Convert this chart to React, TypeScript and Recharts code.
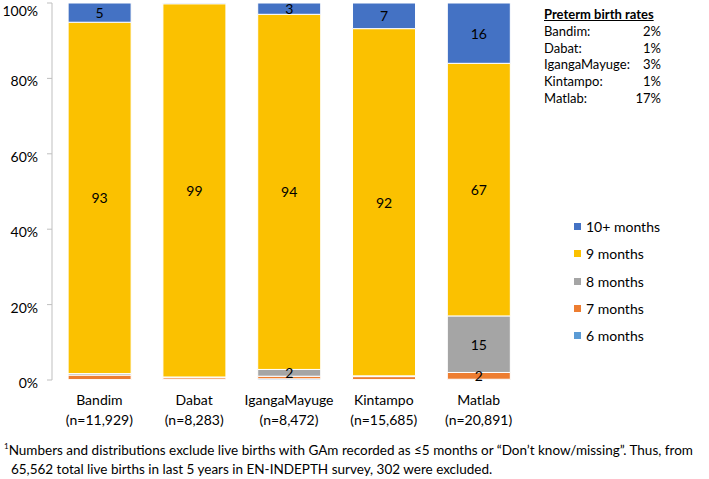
import React from 'react';
import {
  BarChart,
  Bar,
  XAxis,
  YAxis,
  LabelList
} from 'recharts';

// sites and sample sizes
const categories = ['Bandim', 'Dabat', 'IgangaMayuge', 'Kintampo', 'Matlab'];
const sampleSizes = ['11,929', '8,283', '8,472', '15,685', '20,891'];

// % of live births by gestational age in months
const m6 = [0.1, 0.1, 0.3, 0.1, 0.2];
const m7 = [1.2, 0.5, 0.7, 0.8, 1.8];
const m8 = [0.4, 0.2, 1.8, 0.2, 15];
const m9 = [93.2, 99, 94.2, 92.1, 67];
const m10 = [5.1, 0.2, 3, 6.8, 16];

const pretermRates = [2, 1, 3, 1, 17];
const yTicks = [0, 20, 40, 60, 80, 100];

const FONT = 'Lato, "Open Sans", sans-serif';

const series = [
  { key: 'm6', name: '6 months', color: '#5B9BD5' },
  { key: 'm7', name: '7 months', color: '#ED7D31' },
  { key: 'm8', name: '8 months', color: '#A5A5A5' },
  { key: 'm9', name: '9 months', color: '#FBC100' },
  { key: 'm10', name: '10+ months', color: '#4472C4' }
];

const data = categories.map((name, i) => ({
  name,
  n: sampleSizes[i],
  m6: m6[i],
  m7: m7[i],
  m8: m8[i],
  m9: m9[i],
  m10: m10[i]
}));

const SiteTick = (props: any) => {
  const { x, y, payload, index } = props;
  return (
    <text x={x} y={y} textAnchor="middle" fontSize={14} fill="#000" fontFamily={FONT}>
      <tspan x={x} dy={17}>{payload.value}</tspan>
      <tspan x={x} dy={20}>(n={sampleSizes[index]})</tspan>
    </text>
  );
};

const ValueLabel = (props: any) => {
  const { x, y, width, height, value } = props;
  const v = Math.round(value);
  if (v < 2) return null;
  return (
    <text
      x={x + width / 2}
      y={y + height / 2}
      textAnchor="middle"
      dominantBaseline="central"
      fontSize={14}
      fill="#000"
      fontFamily={FONT}
    >
      {v}
    </text>
  );
};

export default function App() {
  return (
    <div style={{ position: 'absolute', left: 0, top: 0, width: 709, height: 479, background: '#fff' }}>
      <BarChart
        width={709}
        height={479}
        data={data}
        margin={{ top: 3, right: 183, bottom: 59, left: 0 }}
        barCategoryGap="17%"
      >
        <XAxis
          xAxisId="grid"
          type="number"
          domain={[0, 5]}
          ticks={[0, 1, 2, 3, 4, 5]}
          tick={false}
          tickSize={5}
          height={0}
          axisLine={{ stroke: '#F2A878' }}
          tickLine={{ stroke: '#BFBFBF' }}
        />
        <XAxis
          dataKey="name"
          axisLine={false}
          tickLine={false}
          interval={0}
          height={40}
          tick={<SiteTick />}
        />
        <YAxis
          domain={[0, 100]}
          ticks={yTicks}
          tickFormatter={(v) => `${v}%`}
          width={52}
          tickSize={5}
          tickMargin={9}
          axisLine={{ stroke: '#BFBFBF' }}
          tickLine={{ stroke: '#BFBFBF' }}
          tick={{ fontSize: 14, fill: '#000', fontFamily: FONT, dy: 3 }}
        />
        {series.map((s) => (
          <Bar
            key={s.key}
            dataKey={s.key}
            name={s.name}
            stackId="a"
            fill={s.color}
            stroke="#fff"
            strokeWidth={1}
            isAnimationActive={false}
          >
            <LabelList dataKey={s.key} content={<ValueLabel />} />
          </Bar>
        ))}
      </BarChart>

      <div style={{ position: 'absolute', left: 574, top: 213, fontFamily: FONT, fontSize: 14, color: '#000' }}>
        {[...series].reverse().map((s) => (
          <div key={s.key} style={{ display: 'flex', alignItems: 'center', height: 27.3 }}>
            <span style={{ width: 7, height: 7, background: s.color, marginRight: 5, display: 'inline-block' }} />
            <span>{s.name}</span>
          </div>
        ))}
      </div>

      <div style={{ position: 'absolute', left: 544, top: 6, width: 120, fontFamily: FONT, fontSize: 13, color: '#000', lineHeight: '16.8px' }}>
        <div style={{ fontWeight: 'bold', textDecoration: 'underline' }}>Preterm birth rates</div>
        {categories.map((c, i) => (
          <div key={c} style={{ display: 'flex', justifyContent: 'space-between', width: 117 }}>
            <span>{c}:</span>
            <span>{pretermRates[i]}%</span>
          </div>
        ))}
      </div>

      <div style={{ position: 'absolute', left: 4, top: 437, width: 705, fontFamily: FONT, fontSize: 13.5, color: '#000', lineHeight: '19px' }}>
        <sup style={{ fontSize: 8 }}>1</sup>Numbers and distributions exclude live births with GAm recorded as ≤5 months or “Don’t know/missing”. Thus, from
        <br />
        &nbsp;&nbsp;65,562 total live births in last 5 years in EN-INDEPTH survey, 302 were excluded.
      </div>
    </div>
  );
}
